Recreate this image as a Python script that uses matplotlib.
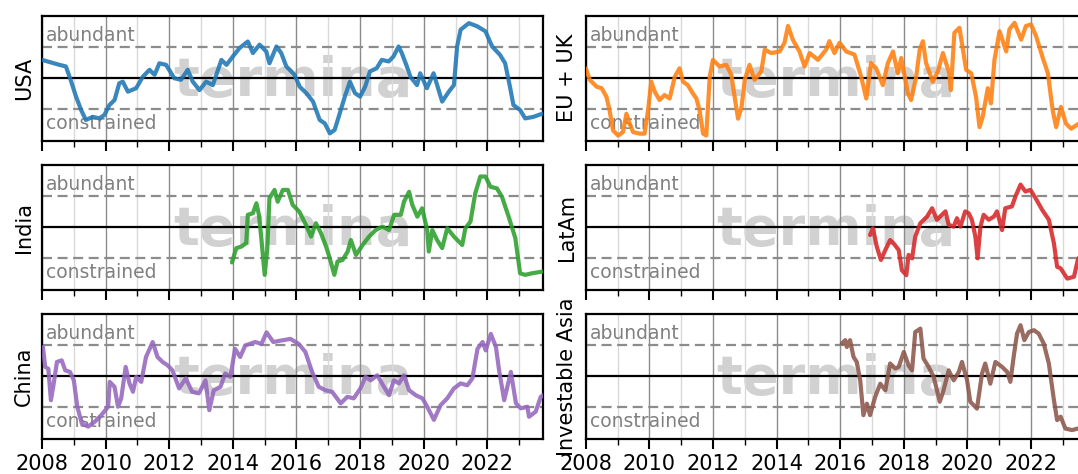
import matplotlib

matplotlib.use("Agg")
import matplotlib.pyplot as plt
from matplotlib.ticker import MultipleLocator

# Liquidity regime index per region (0 = neutral, +1 abundant, -1 constrained)
usa_t = [2008.0, 2008.55, 2008.75, 2008.9, 2009.07, 2009.23, 2009.38, 2009.6, 2009.8, 2009.96,
         2010.12, 2010.28, 2010.43, 2010.54, 2010.7, 2010.96, 2011.17, 2011.38, 2011.54, 2011.69,
         2011.9, 2012.16, 2012.37, 2012.58, 2012.74, 2012.95, 2013.16, 2013.37, 2013.64, 2013.8,
         2014.0, 2014.21, 2014.47, 2014.63, 2014.84, 2015.05, 2015.15, 2015.37, 2015.52, 2015.68,
         2015.94, 2016.1, 2016.31, 2016.52, 2016.73, 2016.89, 2017.05, 2017.2, 2017.36, 2017.52,
         2017.68, 2017.84, 2018.0, 2018.16, 2018.31, 2018.52, 2018.68, 2018.9, 2019.05, 2019.21,
         2019.31, 2019.47, 2019.58, 2019.79, 2019.89, 2020.1, 2020.31, 2020.47, 2020.58, 2020.79,
         2020.95, 2021.05, 2021.16, 2021.42, 2021.68, 2021.94, 2022.15, 2022.4, 2022.56, 2022.72,
         2022.82, 2023.03, 2023.19, 2023.45, 2023.75]
usa_v = [0.59, 0.43, 0.38, -0.05, -0.59, -1.02, -1.34, -1.24, -1.29, -1.18,
         -0.86, -0.70, -0.16, -0.11, -0.43, -0.32, 0.05, 0.27, 0.11, 0.48,
         0.43, 0.0, -0.05, 0.27, -0.11, -0.38, -0.11, -0.22, 0.59, 0.43,
         0.70, 0.97, 1.18, 0.81, 1.08, 0.86, 0.48, 1.02, 0.81, 0.38,
         0.11, -0.27, -0.48, -0.75, -1.34, -1.45, -1.77, -1.66, -1.13, -0.59,
         -0.11, -0.48, -0.59, -0.27, 0.22, 0.32, 0.59, 0.54, 0.70, 1.02,
         0.81, 0.38, 0.05, -0.22, 0.16, -0.32, 0.16, -0.38, -0.75, -0.43,
         -0.22, 1.02, 1.56, 1.77, 1.67, 1.51, 1.02, 0.75, 0.48, -0.32,
         -0.86, -1.02, -1.29, -1.24, -1.13]

eu_t = [2008.0, 2008.13, 2008.34, 2008.5, 2008.65, 2008.75, 2008.86, 2009.02, 2009.17, 2009.28,
        2009.38, 2009.49, 2009.7, 2009.85, 2009.96, 2010.06, 2010.17, 2010.32, 2010.48, 2010.64,
        2010.8, 2010.95, 2011.06, 2011.21, 2011.37, 2011.48, 2011.58, 2011.69, 2011.79, 2011.9,
        2012.0, 2012.21, 2012.42, 2012.58, 2012.68, 2012.79, 2012.9, 2013.0, 2013.15, 2013.31,
        2013.52, 2013.63, 2013.83, 2014.1, 2014.25, 2014.36, 2014.51, 2014.72, 2014.88, 2015.04,
        2015.3, 2015.56, 2015.66, 2015.82, 2015.98, 2016.19, 2016.45, 2016.66, 2016.82, 2016.97,
        2017.13, 2017.34, 2017.5, 2017.66, 2017.81, 2017.92, 2018.13, 2018.23, 2018.39, 2018.5,
        2018.6, 2018.7, 2018.91, 2019.07, 2019.23, 2019.43, 2019.48, 2019.59, 2019.75, 2019.96,
        2020.12, 2020.27, 2020.38, 2020.48, 2020.64, 2020.74, 2020.85, 2021.01, 2021.22, 2021.32,
        2021.48, 2021.69, 2021.84, 2022.0, 2022.16, 2022.37, 2022.53, 2022.68, 2022.79, 2022.94,
        2023.1, 2023.26, 2023.5, 2023.75]
eu_v = [0.32, -0.05, -0.27, -0.32, -0.59, -1.03, -1.68, -1.84, -1.73, -1.14,
        -1.46, -1.73, -1.78, -1.78, -1.03, -0.11, -0.43, -0.70, -0.54, -0.65,
        0.05, 0.32, -0.11, -0.22, -0.49, -0.65, -1.03, -1.78, -1.84, 0.05,
        0.59, 0.38, 0.43, 0.11, -0.59, -1.30, -0.92, -0.05, 0.43, -0.05,
        0.22, 0.92, 0.81, 0.86, 1.14, 1.68, 1.24, 0.86, 0.38, 0.81,
        0.59, 0.92, 1.19, 0.81, 1.14, 0.86, 0.76, 0.05, -0.65, 0.49,
        0.32, -0.22, 0.49, 0.86, 0.16, 0.65, -0.49, -0.70, 0.05, 0.92,
        1.19, 0.49, -0.11, 0.22, 0.81, 0.16, -0.38, 1.46, 1.62, 0.27,
        0.16, -0.59, -1.57, -1.24, -0.32, -0.81, 0.59, 1.51, 0.86, 1.57,
        1.78, 1.24, 1.68, 1.73, 1.35, 0.65, 0.16, -1.03, -1.57, -0.92,
        -1.46, -1.62, -1.46, -1.40]

india_t = [2013.97, 2014.11, 2014.27, 2014.42, 2014.47, 2014.63, 2014.74, 2014.82, 2014.89, 2015.0,
           2015.08, 2015.15, 2015.31, 2015.41, 2015.57, 2015.73, 2015.88, 2016.09, 2016.3, 2016.46,
           2016.61, 2016.77, 2016.93, 2017.03, 2017.19, 2017.29, 2017.45, 2017.61, 2017.71, 2017.87,
           2018.08, 2018.28, 2018.49, 2018.7, 2018.91, 2019.07, 2019.28, 2019.38, 2019.54, 2019.64,
           2019.8, 2019.95, 2020.11, 2020.16, 2020.27, 2020.42, 2020.58, 2020.74, 2020.95, 2021.21,
           2021.31, 2021.47, 2021.62, 2021.78, 2021.94, 2022.1, 2022.3, 2022.46, 2022.67, 2022.88,
           2023.03, 2023.19, 2023.4, 2023.75]
india_v = [-1.13, -0.67, -0.62, -0.51, 0.40, 0.45, 0.77, 0.40, -0.30, -1.53,
           -0.73, 0.93, 1.20, 0.82, 1.20, 1.20, 0.72, 0.50, 0.07, -0.30,
           0.13, -0.19, -0.62, -0.94, -1.53, -1.10, -1.05, -0.78, -0.41, -0.89,
           -0.57, -0.30, -0.09, 0.02, -0.09, 0.40, 0.40, 0.82, 1.14, 0.72,
           0.34, 0.61, -0.09, -0.78, -0.09, -0.41, -0.67, -0.03, -0.30, -0.57,
           -0.03, 0.18, 1.09, 1.63, 1.63, 1.30, 1.25, 0.98, 0.34, -0.35,
           -1.48, -1.53, -1.48, -1.42]

latam_t = [2016.94, 2017.03, 2017.15, 2017.28, 2017.42, 2017.57, 2017.68, 2017.84, 2017.94, 2018.08,
           2018.15, 2018.26, 2018.36, 2018.52, 2018.73, 2018.89, 2019.04, 2019.2, 2019.31, 2019.41,
           2019.57, 2019.67, 2019.78, 2019.93, 2020.04, 2020.14, 2020.25, 2020.32, 2020.41, 2020.51,
           2020.67, 2020.83, 2020.93, 2021.09, 2021.19, 2021.4, 2021.51, 2021.67, 2021.82, 2021.98,
           2022.14, 2022.35, 2022.56, 2022.72, 2022.82, 2022.93, 2023.14, 2023.35, 2023.47, 2023.6]
latam_v = [-0.25, -0.03, -0.62, -1.05, -0.73, -0.41, -0.52, -0.73, -1.38, -1.54,
           -0.89, -1.00, -0.30, 0.13, 0.34, 0.61, 0.24, 0.40, 0.51, 0.08,
           0.02, 0.29, 0.02, 0.51, 0.45, 0.24, -0.30, -1.00, 0.02, 0.40,
           0.24, 0.34, 0.51, -0.09, 0.61, 0.67, 0.99, 1.37, 1.15, 1.20,
           0.94, 0.56, 0.24, -0.52, -1.27, -1.32, -1.65, -1.59, -1.05, -0.80]

china_t = [2008.03, 2008.1, 2008.2, 2008.28, 2008.36, 2008.47, 2008.62, 2008.73, 2008.88, 2009.0,
           2009.11, 2009.25, 2009.45, 2009.66, 2009.87, 2010.08, 2010.13, 2010.28, 2010.39, 2010.49,
           2010.63, 2010.75, 2010.86, 2010.96, 2011.12, 2011.27, 2011.48, 2011.63, 2011.79, 2011.95,
           2012.1, 2012.31, 2012.52, 2012.72, 2012.93, 2013.14, 2013.26, 2013.4, 2013.61, 2013.76,
           2013.92, 2014.07, 2014.23, 2014.39, 2014.7, 2014.9, 2015.06, 2015.27, 2015.53, 2015.81,
           2016.07, 2016.28, 2016.49, 2016.7, 2016.91, 2017.12, 2017.39, 2017.6, 2017.8, 2018.01,
           2018.17, 2018.33, 2018.54, 2018.75, 2018.91, 2019.06, 2019.22, 2019.38, 2019.54, 2019.75,
           2019.96, 2020.11, 2020.32, 2020.53, 2020.74, 2020.95, 2021.16, 2021.37, 2021.53, 2021.69,
           2021.85, 2021.95, 2022.11, 2022.27, 2022.37, 2022.53, 2022.74, 2022.9, 2023.05, 2023.26,
           2023.31, 2023.52, 2023.68, 2023.75]
china_v = [0.94, 0.30, 0.24, -0.77, -0.29, 0.46, 0.51, 0.19, 0.14, -0.13,
           -0.98, -1.51, -1.62, -1.46, -1.24, -0.98, -0.18, -0.34, -0.98, -0.71,
           0.30, -0.23, -0.50, -0.02, -0.18, 0.62, 1.10, 0.62, 0.46, 0.35,
           0.19, -0.39, -0.07, -0.50, -0.55, -0.13, -1.09, -0.45, -0.34, 0.09,
           -0.02, 0.88, 0.62, 0.99, 1.10, 1.04, 1.41, 1.10, 1.15, 1.20,
           1.04, 0.78, 0.14, -0.34, -0.45, -0.50, -0.87, -0.66, -0.71, -0.39,
           -0.02, -0.13, 0.03, -0.34, -0.61, -0.13, -0.23, 0.03, -0.45, -0.61,
           -0.71, -0.98, -1.40, -0.93, -0.71, -0.39, -0.23, -0.29, -0.07, 0.88,
           1.10, 0.83, 1.36, 0.94, 0.19, -0.77, 0.14, -0.87, -1.03, -0.98,
           -1.30, -1.14, -0.66, -0.61]

asia_t = [2016.05, 2016.16, 2016.21, 2016.31, 2016.42, 2016.52, 2016.63, 2016.73, 2016.84, 2016.94,
          2017.1, 2017.26, 2017.42, 2017.57, 2017.73, 2017.84, 2018.0, 2018.15, 2018.26, 2018.36,
          2018.52, 2018.62, 2018.78, 2018.94, 2019.13, 2019.25, 2019.41, 2019.57, 2019.73, 2019.83,
          2019.99, 2020.09, 2020.3, 2020.46, 2020.56, 2020.72, 2020.88, 2021.09, 2021.25, 2021.35,
          2021.46, 2021.56, 2021.67, 2021.79, 2021.93, 2022.09, 2022.24, 2022.4, 2022.56, 2022.72,
          2022.82, 2022.93, 2023.08, 2023.29, 2023.47, 2023.75]
asia_v = [1.05, 1.16, 0.94, 1.16, 0.62, 0.46, -0.13, -1.25, -0.88, -1.25,
          -0.66, -0.24, -0.45, 0.41, 0.25, 0.30, 0.78, 0.35, 0.19, 1.42,
          1.53, 0.57, 0.30, -0.02, -0.82, -0.45, 0.19, -0.13, 0.14, 0.46,
          -0.13, -0.82, -1.04, 0.09, 0.41, -0.24, 0.46, 0.30, 0.14, -0.18,
          0.67, 1.37, 1.64, 1.16, 1.42, 1.48, 1.37, 1.05, 0.41, -0.77,
          -1.41, -1.30, -1.68, -1.73, -1.68, -1.68]

regions = ["USA", "EU + UK", "India", "LatAm", "China", "Investable Asia"]
series = [(usa_t, usa_v), (eu_t, eu_v), (india_t, india_v),
          (latam_t, latam_v), (china_t, china_v), (asia_t, asia_v)]
colors = ["tab:blue", "tab:orange", "tab:green", "tab:red", "tab:purple", "tab:brown"]

W, H = 1078, 474
fig = plt.figure(figsize=(W / 100, H / 100), dpi=100)

# panel placement in pixels; right column runs past the figure edge
col_left = [42, 585.7]
axis_w = 501
row_top = [16, 165, 314]
axis_h = 124.5

for i, (name, (t, v), c) in enumerate(zip(regions, series, colors)):
    row, col = divmod(i, 2)
    x0 = col_left[col] / W
    y0 = 1 - (row_top[row] + axis_h) / H
    ax = fig.add_axes([x0, y0, axis_w / W, axis_h / H])

    # watermark
    ax.text(0.5, 0.36, "termina", transform=ax.transAxes, ha="center", va="baseline",
            fontsize=39, fontweight="bold", color="black", alpha=0.18, zorder=0)

    ax.axhline(0, color="black", lw=1.6, zorder=2)
    ax.axhline(1, color="0.55", lw=1.6, ls=(0, (4.5, 2.5)), zorder=2)
    ax.axhline(-1, color="0.55", lw=1.6, ls=(0, (4.5, 2.5)), zorder=2)
    ax.text(0.008, 1.2, "abundant", transform=ax.get_yaxis_transform(),
            fontsize=13.5, color="0.5", va="baseline", ha="left", zorder=3)
    ax.text(0.008, -1.62, "constrained", transform=ax.get_yaxis_transform(),
            fontsize=13.5, color="0.5", va="baseline", ha="left", zorder=3)

    ax.plot(t, v, color=c, lw=3.0, alpha=0.88, solid_joinstyle="round",
            solid_capstyle="round", zorder=4)

    ax.set_xlim(2008, 2023.75)
    ax.set_ylim(-2, 2)
    ax.set_yticks([])
    ax.xaxis.set_major_locator(MultipleLocator(2))
    ax.xaxis.set_minor_locator(MultipleLocator(1))
    ax.grid(which="major", axis="x", color="0.55", lw=1.0, zorder=1)
    ax.grid(which="minor", axis="x", color="0.85", lw=1.0, zorder=1)
    ax.tick_params(axis="x", which="major", length=7, width=1.5, labelsize=15, pad=4)
    ax.tick_params(axis="x", which="minor", length=4, width=1.0)
    if row < 2:
        ax.tick_params(axis="x", labelbottom=False)
    for s in ax.spines.values():
        s.set_linewidth(1.6)
    ax.set_ylabel(name, fontsize=15, labelpad=6)

fig.savefig("out.png", dpi=100)
